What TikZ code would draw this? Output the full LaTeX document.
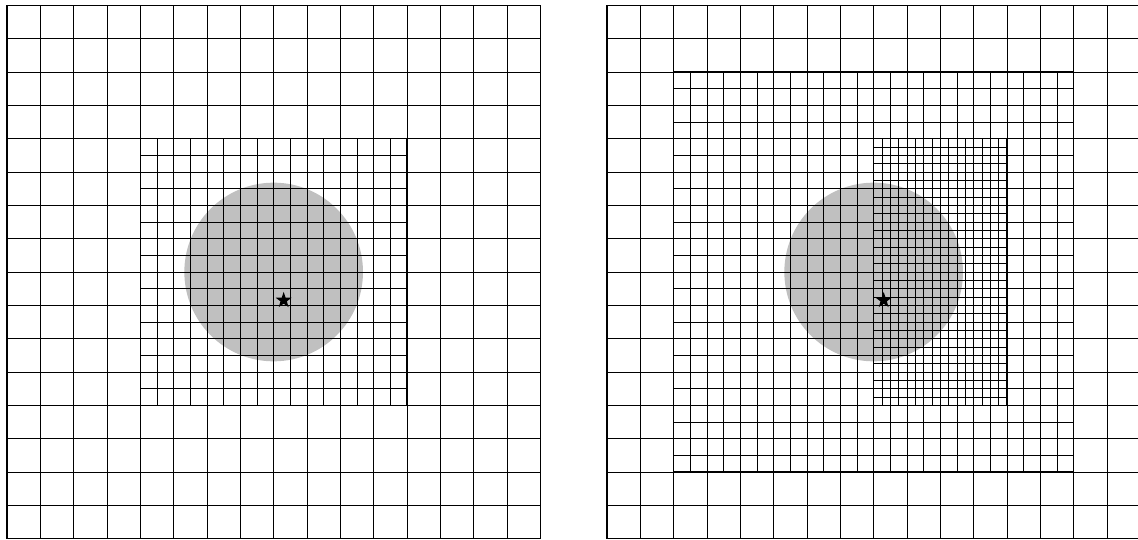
\documentclass[tikz,border=0pt]{standalone}
\usepackage{tikz}
\usetikzlibrary{shapes.geometric}
\definecolor{grisdisque}{RGB}{192,192,192}

\begin{document}
\begin{tikzpicture}[x=1cm, y=1cm, line width=0.8pt,
  cadre/.style={line width=1.4pt},
  etoile/.style={star, star points=5, star point ratio=2.5, fill=black, inner sep=0pt, minimum size=0.5cm}]
\useasboundingbox (-0.21,-0.03) rectangle (33.93,16.16);
% maillage uniforme raffine au centre
\fill[grisdisque] (8,8) circle (2.68);
\draw[step=1] (0,0) grid (16,16);
\draw[step=0.5] (4,4) grid (12,12);
\draw[cadre] (0,0) rectangle (16,16) (4,4) rectangle (12,12);
\node[etoile] (sourceG) at (8.3,7.15) {};
% maillage a deux niveaux de raffinement
\fill[grisdisque] (26,8) circle (2.68);
\draw[step=1] (18,0) grid (34,16);
\draw[step=0.5] (20,2) grid (32,14);
\draw[step=0.25] (26,4) grid (30,12);
\draw[cadre] (18,0) rectangle (34,16) (20,2) rectangle (32,14) (26,4) rectangle (30,12);
\node[etoile] (sourceD) at (26.3,7.15) {};
\end{tikzpicture}
\end{document}
